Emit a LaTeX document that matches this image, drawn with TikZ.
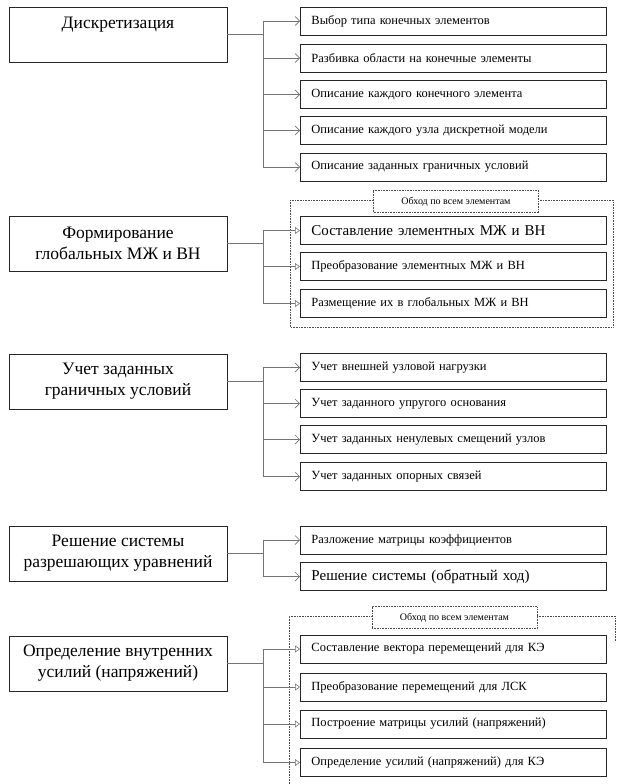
\documentclass[tikz,border=0pt]{standalone}
\usepackage{fontspec}
\setmainfont{Liberation Serif}
\usetikzlibrary{arrows.meta,positioning}

\tikzset{
  mainbox/.style={draw=black!85, line width=0.9pt, minimum width=218pt, minimum height=55pt,
    inner sep=0pt, align=center, font=\rmfamily\fontsize{17.5}{21}\selectfont},
  subbox/.style={draw=black!85, line width=0.9pt, minimum height=28pt, inner xsep=11pt,
    inner ysep=0pt, anchor=west, text width=284pt, align=left, font=\rmfamily\fontsize{12.5}{15}\selectfont},
  subbig/.style={subbox, font=\rmfamily\fontsize{15}{18}\selectfont},
  link/.style={draw=black!55, line width=0.7pt},
  branch/.style={link, -{Straight Barb[length=4.5pt,width=9pt,line width=0.7pt]}},
  branchin/.style={link, -{Triangle[open,length=5pt,width=7pt,line width=0.6pt]}},
  loopframe/.style={draw=black!70, line width=0.6pt, densely dotted},
  looplabel/.style={draw=black!70, line width=0.6pt, densely dotted, fill=white,
    minimum width=165pt, minimum height=22pt, inner sep=0pt, font=\rmfamily\fontsize{10}{12}\selectfont}
}

\begin{document}
\begin{tikzpicture}[x=1pt, y=-1pt]
    \useasboundingbox (0,0) rectangle (621,784);

    % Discretization
    \node[mainbox, label={[anchor=base, yshift=-22pt, inner sep=0pt, font=\rmfamily\fontsize{17.5}{21}\selectfont]north:Дискретизация}] (disc) at (118,34.5) {};
    \coordinate (d1) at (263,34.5);
    \foreach \i/\yy/\txt in {1/21/{Выбор типа конечных элементов},
                             2/58/{Разбивка области на конечные элементы},
                             3/94.5/{Описание каждого конечного элемента},
                             4/130.5/{Описание каждого узла дискретной модели},
                             5/167/{Описание заданных граничных условий}} {
        \node[subbox] (s1-\i) at (300,\yy) {\txt};
        \draw[branch] (d1 |- s1-\i.west) -- (s1-\i.west);
    }
    \draw[link] (disc.east) -- (d1);
    \draw[link] (d1 |- s1-1.west) -- (d1 |- s1-5.west);

    % Global matrices
    \draw[loopframe] (290,200) rectangle (613,327);
    \node[looplabel] (loop1) at (456,201.5) {Обход по всем элементам};
    \node[mainbox] (glob) at (118,243.5) {Формирование\\глобальных МЖ и ВН};
    \coordinate (d2) at (263,243.5);
    \foreach \i/\yy/\st/\txt in {1/230.5/subbig/{Составление элементных МЖ и ВН},
                                 2/266.5/subbox/{Преобразование элементных МЖ и ВН},
                                 3/303.5/subbox/{Размещение их в глобальных МЖ и ВН}} {
        \node[\st] (s2-\i) at (300,\yy) {\txt};
        \draw[branchin] (d2 |- s2-\i.west) -- (s2-\i.west);
    }
    \draw[link] (glob.east) -- (d2);
    \draw[link] (d2 |- s2-1.west) -- (d2 |- s2-3.west);

    % Boundary conditions
    \node[mainbox] (bound) at (118,381.5) {Учет заданных\\граничных условий};
    \coordinate (d3) at (263,381.5);
    \foreach \i/\yy/\txt in {1/367.5/{Учет внешней узловой нагрузки},
                             2/403.5/{Учет заданного упругого основания},
                             3/439.5/{Учет заданных ненулевых смещений узлов},
                             4/476.5/{Учет заданных опорных связей}} {
        \node[subbox] (s3-\i) at (300,\yy) {\txt};
        \draw[branch] (d3 |- s3-\i.west) -- (s3-\i.west);
    }
    \draw[link] (bound.east) -- (d3);
    \draw[link] (d3 |- s3-1.west) -- (d3 |- s3-4.west);

    % Solving
    \node[mainbox] (solve) at (118,553.5) {Решение системы\\разрешающих уравнений};
    \coordinate (d4) at (263,553.5);
    \foreach \i/\yy/\st/\txt in {1/540/subbox/{Разложение матрицы коэффициентов},
                                 2/576.5/subbig/{Решение системы (обратный ход)}} {
        \node[\st] (s4-\i) at (300,\yy) {\txt};
        \draw[branch] (d4 |- s4-\i.west) -- (s4-\i.west);
    }
    \draw[link] (solve.east) -- (d4);
    \draw[link] (d4 |- s4-1.west) -- (d4 |- s4-2.west);

    % Internal forces
    \draw[loopframe] (289,784) -- (289,616) -- (615,616) -- (615,642);
    \node[looplabel] (loop2) at (454.5,617.5) {Обход по всем элементам};
    \node[mainbox] (force) at (118,663.5) {Определение внутренних\\усилий (напряжений)};
    \coordinate (d5) at (263,663.5);
    \foreach \i/\yy/\txt in {1/649/{Составление вектора перемещений для КЭ},
                             2/687/{Преобразование перемещений для ЛСК},
                             3/724/{Построение матрицы усилий (напряжений)},
                             4/762.5/{Определение усилий (напряжений) для КЭ}} {
        \node[subbox] (s5-\i) at (300,\yy) {\txt};
        \draw[branchin] (d5 |- s5-\i.west) -- (s5-\i.west);
    }
    \draw[link] (force.east) -- (d5);
    \draw[link] (d5 |- s5-1.west) -- (d5 |- s5-4.west);
\end{tikzpicture}
\end{document}
